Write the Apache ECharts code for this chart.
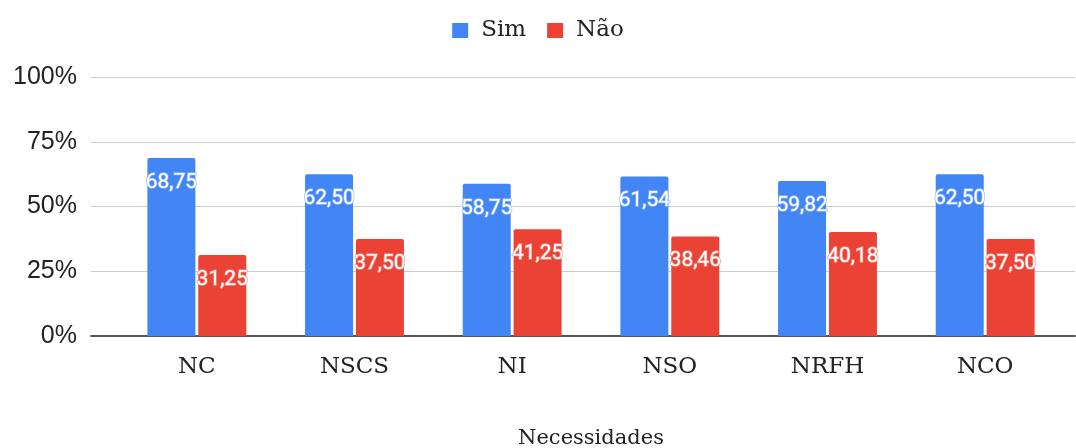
<!DOCTYPE html>
<html>
<head>
<meta charset="utf-8">
<script src="https://cdn.jsdelivr.net/npm/echarts@6/dist/echarts.min.js"></script>
<style>
    html, body { margin: 0; padding: 0; background: #fff; }
    #chart { width: 1076px; height: 448px; }
</style>
</head>
<body>
<div id="chart"></div>
<script>
    // necessidades
    var categorias = ['NC', 'NSCS', 'NI', 'NSO', 'NRFH', 'NCO'];
    var sim = [68.75, 62.50, 58.75, 61.54, 59.82, 62.50];
    var nao = [31.25, 37.50, 41.25, 38.46, 40.18, 37.50];
    var yTicks = [0, 25, 50, 75, 100];

    var serif = 'DejaVu Serif';

    function rotulo(cor) {
        return {
            show: true,
            position: 'insideTop',
            distance: 14,
            color: '#fff',
            fontFamily: 'Roboto',
            fontSize: 21,
            textBorderColor: cor,
            textBorderWidth: 1.5,
            formatter: function (p) {
                return p.value.toFixed(2).replace('.', ',');
            }
        };
    }

    var chart = echarts.init(document.getElementById('chart'));
    chart.setOption({
        animation: false,
        legend: {
            top: 14,
            left: 'center',
            itemWidth: 16,
            itemHeight: 15,
            itemGap: 21,
            icon: 'rect',
            textStyle: {fontFamily: serif, fontSize: 23, color: '#222', padding: [0, 0, 0, 8]},
            data: ['Sim', 'Não']
        },
        grid: [
            {left: 91, right: 1, top: 77, bottom: 112, outerBoundsMode: 'none'},
            {left: 118, right: 12, top: 77, bottom: 112, outerBoundsMode: 'none'}
        ],
        xAxis: [
            {
                gridIndex: 0,
                type: 'category',
                data: [''],
                axisLine: {lineStyle: {color: '#555', width: 2}},
                axisTick: {show: false},
                axisLabel: {show: false}
            },
            {
                gridIndex: 1,
                type: 'category',
                data: categorias,
                axisLine: {show: false},
                axisTick: {show: false},
                axisLabel: {fontFamily: serif, fontSize: 23, color: '#222', margin: 20},
                name: 'Necessidades',
                nameLocation: 'middle',
                nameGap: 92,
                nameTextStyle: {fontFamily: serif, fontSize: 21, color: '#222'}
            }
        ],
        yAxis: [
            {
                gridIndex: 0,
                type: 'value',
                min: yTicks[0],
                max: yTicks[yTicks.length - 1],
                interval: 25,
                axisLine: {show: false},
                axisTick: {show: false},
                axisLabel: {fontFamily: 'Liberation Sans', fontSize: 25, color: '#222', margin: 14, formatter: '{value}%'},
                splitLine: {lineStyle: {color: '#ccc', width: 1}}
            },
            {
                gridIndex: 1,
                type: 'value',
                min: 0,
                max: 100,
                show: false,
                splitLine: {show: false}
            }
        ],
        series: [
            {
                name: 'Sim',
                type: 'bar',
                xAxisIndex: 1,
                yAxisIndex: 1,
                barWidth: 48,
                barGap: '6%',
                itemStyle: {color: '#4285F4', borderRadius: [2, 2, 0, 0]},
                label: rotulo('rgba(150,185,248,0.9)'),
                data: sim
            },
            {
                name: 'Não',
                type: 'bar',
                xAxisIndex: 1,
                yAxisIndex: 1,
                barWidth: 48,
                itemStyle: {color: '#EA4335', borderRadius: [2, 2, 0, 0]},
                label: rotulo('rgba(244,150,140,0.9)'),
                data: nao
            }
        ]
    });
</script>
</body>
</html>
